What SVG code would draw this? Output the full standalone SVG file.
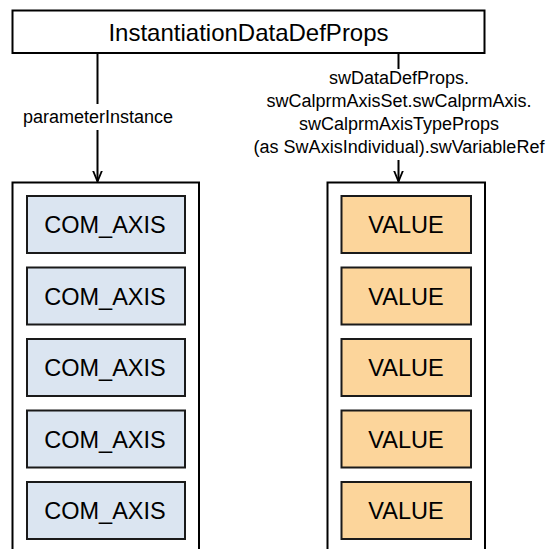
<svg xmlns="http://www.w3.org/2000/svg" width="546" height="549" viewBox="0 0 546 549">
<defs>
<style>
.t{font-family:"Liberation Sans",Arial,sans-serif;fill:#000;text-anchor:middle}
.box{fill:#fff;stroke:#000;stroke-width:2}
.ax{fill:#dbe5f1;stroke:#1a1a1a;stroke-width:2}
.val{fill:#fcd59b;stroke:#1a1a1a;stroke-width:2}
.ln{fill:none;stroke:#000;stroke-width:2}
.lb{font-size:18px}
.nd{font-size:23.5px}
</style>
<marker id="arr" viewBox="0 0 12 12" refX="11" refY="6" markerWidth="12" markerHeight="12" markerUnits="userSpaceOnUse" orient="auto">
<path d="M0,1.5 L11,6 L0,10.5" fill="none" stroke="#000" stroke-width="1.8"/>
</marker>
</defs>
<rect width="546" height="549" fill="#fff"/>
<g id="top">
<rect class="box" x="12.5" y="10.5" width="472" height="42.5"/>
<text class="t" x="248.5" y="40.5" font-size="24">InstantiationDataDefProps</text>
</g>
<g id="left-container">
<rect class="box" x="12.5" y="182.5" width="186.5" height="380"/>
</g>
<g id="right-container">
<rect class="box" x="327.5" y="182.5" width="157.5" height="380"/>
</g>
<g id="axis1"><rect class="ax" x="27" y="196" width="158" height="57"/><text class="t nd" x="105" y="233">COM_AXIS</text></g>
<g id="axis2"><rect class="ax" x="27" y="267.5" width="158" height="57"/><text class="t nd" x="105" y="304.5">COM_AXIS</text></g>
<g id="axis3"><rect class="ax" x="27" y="339" width="158" height="57"/><text class="t nd" x="105" y="376">COM_AXIS</text></g>
<g id="axis4"><rect class="ax" x="27" y="410.5" width="158" height="57"/><text class="t nd" x="105" y="447.5">COM_AXIS</text></g>
<g id="axis5"><rect class="ax" x="27" y="482" width="158" height="57"/><text class="t nd" x="105" y="519">COM_AXIS</text></g>
<g id="value1"><rect class="val" x="341.5" y="196" width="129.5" height="57"/><text class="t nd" x="406" y="233">VALUE</text></g>
<g id="value2"><rect class="val" x="341.5" y="267.5" width="129.5" height="57"/><text class="t nd" x="406" y="304.5">VALUE</text></g>
<g id="value3"><rect class="val" x="341.5" y="339" width="129.5" height="57"/><text class="t nd" x="406" y="376">VALUE</text></g>
<g id="value4"><rect class="val" x="341.5" y="410.5" width="129.5" height="57"/><text class="t nd" x="406" y="447.5">VALUE</text></g>
<g id="value5"><rect class="val" x="341.5" y="482" width="129.5" height="57"/><text class="t nd" x="406" y="519">VALUE</text></g>
<g id="connectors">
<path class="ln" d="M97.5,53 V104"/>
<path class="ln" d="M97.5,130 V181.5" marker-end="url(#arr)"/>
<text class="t lb" x="98" y="123">parameterInstance</text>
<path class="ln" d="M398.5,53 V69"/>
<text class="t lb" x="399" y="84">swDataDefProps.</text>
<text class="t lb" x="399" y="107">swCalprmAxisSet.swCalprmAxis.</text>
<text class="t lb" x="399" y="130">swCalprmAxisTypeProps</text>
<text class="t lb" x="399" y="153">(as SwAxisIndividual).swVariableRef</text>
<path class="ln" d="M398.5,160 V181.5" marker-end="url(#arr)"/>
</g>
</svg>
